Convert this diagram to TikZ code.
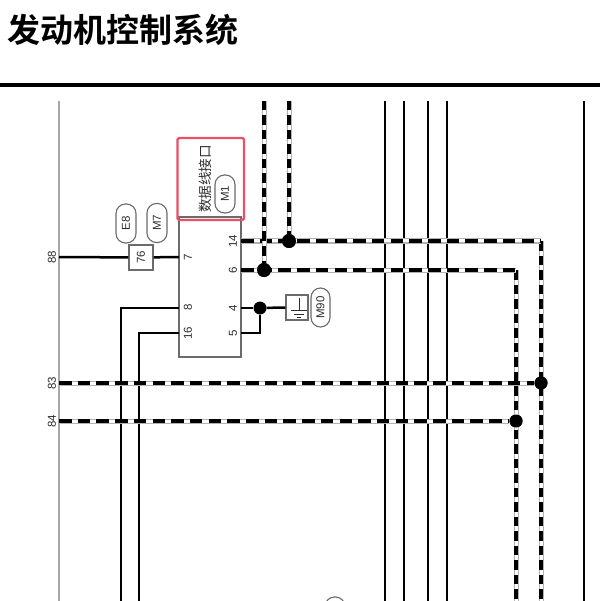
\documentclass[tikz,border=0pt]{standalone}
\usepackage{fontspec}
\setmainfont{Liberation Sans}
\newfontfamily\cjk{Noto Sans CJK SC}[BoldFont={* Bold}]
\definecolor{edgegrey}{gray}{0.42}
\definecolor{textgrey}{gray}{0.18}
\definecolor{railgrey}{gray}{0.66}
\definecolor{redbox}{RGB}{232,80,104}
\begin{document}
\begin{tikzpicture}[x=1pt,y=-1pt,
  wire/.style={line width=2.5pt,black},
  rail/.style={line width=2pt,railgrey},
  dashbase/.style={line width=5pt,color=black!30,
    postaction={draw,white,line width=3pt}},
  hdash/.style={dashbase,postaction={draw,black,line width=4.6pt,dash pattern=on 12.5pt off 6.2pt}},
  vdash/.style={dashbase,postaction={draw,black,line width=4.6pt,dash pattern=on 9.5pt off 5pt}},
  pin/.style={font=\fontsize{11.5}{11.5}\selectfont,text=textgrey,rotate=90,inner sep=0pt},
  oval/.style={draw=edgegrey,line width=1.1pt,rounded corners=9.5pt,minimum width=39pt,minimum height=20pt,
     inner sep=0pt,rotate=90,font=\fontsize{11.5}{11.5}\selectfont,text=textgrey},
  dot/.style={circle,fill=black,inner sep=0pt,minimum size=#1},
  dot/.default=13pt]
\useasboundingbox (0,0) rectangle (600,601);
\fill[white] (0,0) rectangle (600,601);
% title
\node[anchor=west,inner sep=0pt,font=\cjk\bfseries\fontsize{33}{33}\selectfont] (title) at (7,30) {发动机控制系统};
\coordinate (ruleL) at (0,85); \coordinate (ruleR) at (600,85);
\draw[line width=3.8pt] (ruleL) -- (ruleR);
% free wire ends
\foreach \n/\x in {a/59,b/385,c/404,d/428,e/447,f/584}{
  \coordinate (\n T) at (\x,101); \coordinate (\n B) at (\x,601);}
\draw[rail] (aT) -- (aB);
\foreach \n in {b,c,d,e,f}{\draw[wire] (\n T) -- (\n B);}
% connector body
\node[draw=edgegrey,line width=1.2pt,minimum width=62pt,minimum height=140pt,inner sep=0pt] (ecu) at (210,287) {};
\coordinate (p7) at (179,257); \coordinate (p8) at (179,308); \coordinate (p16) at (179,333);
\coordinate (p14) at (241,241); \coordinate (p6) at (241,270); \coordinate (p4) at (241,308); \coordinate (p5) at (241,333);
\foreach \n/\x/\y/\t in {l7/188/257/7,l8/188/307/8,l16/188/333/16,l14/233/241/14,l6/233/270/6,l4/233/308/4,l5/233/333/5}{
  \node[pin] (\n) at (\x,\y) {\t};}
% fuse 76
\node[draw=edgegrey,line width=1.2pt,minimum width=25pt,minimum height=24pt,inner sep=0pt,rotate=90,
  font=\fontsize{11.5}{11.5}\selectfont,text=textgrey] (s76) at (141,257.5) {76};
\coordinate (w88) at (59,257);
\draw[wire] (w88) -- (s76);
\draw[wire] (s76) -- (p7);
\node[pin] (t88) at (52,257) {88};
\node[pin] (t83) at (52,383) {83};
\node[pin] (t84) at (52,421) {84};
\node[oval] (e8) at (126,223.5) {E8};
\node[oval] (m7) at (157,223) {M7};
% lower-left wires
\coordinate (c8) at (121,308); \coordinate (c8b) at (121,601);
\coordinate (c16) at (139,333); \coordinate (c16b) at (139,601);
\draw[wire] (p8) -- (c8) -- (c8b);
\draw[wire] (p16) -- (c16) -- (c16b);
% ground
\node[dot=13pt] (j4) at (260,308) {};
\node[draw=edgegrey,line width=1.2pt,minimum width=22pt,minimum height=25pt,inner sep=0pt] (gnd) at (297,307.5) {};
\coordinate (c5) at (260,333);
\draw[wire] (p4) -- (j4);
\draw[wire] (j4) -- (gnd.west);
\draw[wire] (j4) -- (c5) -- (p5);
\coordinate (g0) at (299,298); \coordinate (g1) at (299,310);
\draw[line width=1pt,textgrey] (g0) -- (g1);
\draw[line width=1pt,textgrey] (291,310) -- (307,310) (294,314) -- (304,314) (297,317.5) -- (301,317.5);
\node[oval,minimum width=39pt,minimum height=19pt] (m90) at (320.5,307.5) {M90};
% dashed wires
\coordinate (c14) at (541,241); \coordinate (c14b) at (541,601);
\coordinate (c6) at (516,270); \coordinate (c6b) at (516,601);
\coordinate (w83) at (59,383); \coordinate (w84) at (59,421);
\node[dot] (j83) at (541,383) {};
\node[dot] (j84) at (516,421) {};
\node[dot=14pt] (j14) at (289,241) {};
\node[dot=14pt] (j6) at (264,270) {};
\coordinate (up6) at (264,101); \coordinate (up14) at (289,101);
\draw[vdash] (c14) -- (c14b);
\draw[vdash] (c6) -- (c6b);
\draw[hdash] (p14) -- (c14);
\draw[hdash] (p6) -- (c6);
\draw[hdash] (w83) -- (j83);
\draw[hdash] (w84) -- (j84);
\draw[vdash] (up6) -- (j6);
\draw[vdash] (up14) -- (j14);
\node[dot] at (j83) {};
\node[dot] at (j84) {};
\node[dot=14pt] at (j14) {};
\node[dot=14pt] at (j6) {};
% label box
\node[rotate=90,inner sep=0pt,text=textgrey,font=\cjk\fontsize{13.6}{14}\selectfont] (lab) at (205,179) {数据线接口};
\node[oval,minimum width=38pt,minimum height=20pt] (m1) at (225,194) {M1};
\draw[redbox,line width=2.2pt,rounded corners=1.5pt] (177.5,138) rectangle (244,220);
% clipped oval at lower edge
\begin{scope}
\clip (300,590) rectangle (370,601);
\node[draw=edgegrey,line width=1.1pt,rounded corners=9.5pt,minimum width=20pt,minimum height=30pt,inner sep=0pt] (cut) at (335,612) {};
\end{scope}
\end{tikzpicture}
\end{document}
